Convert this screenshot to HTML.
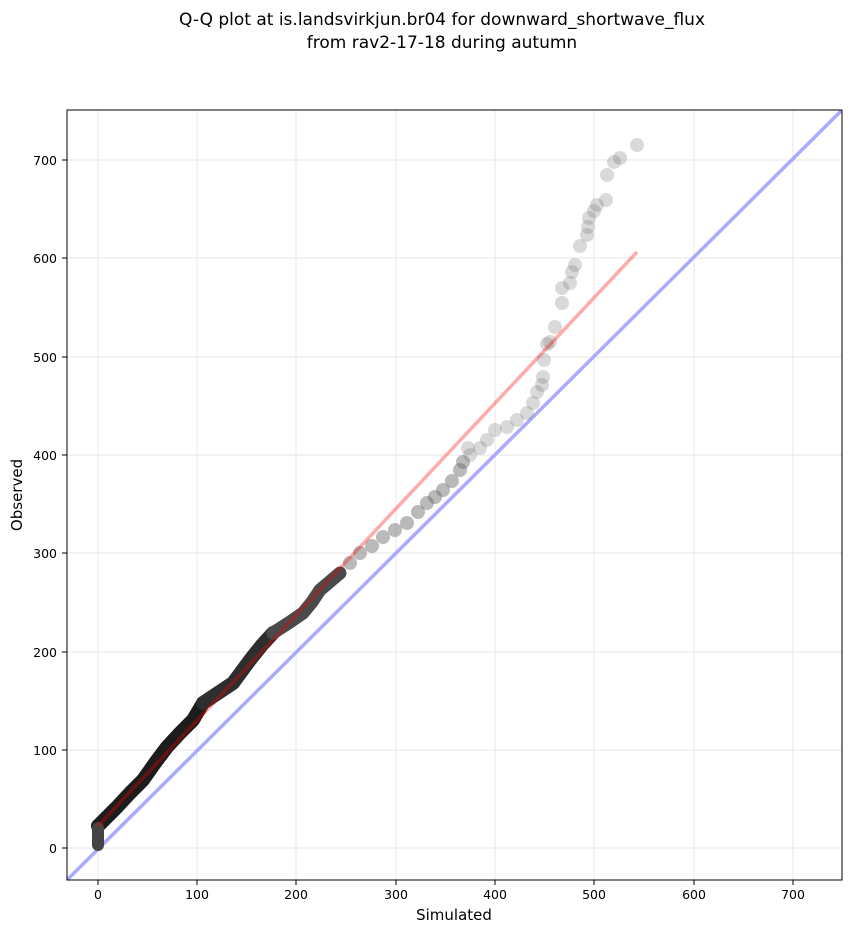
<!DOCTYPE html>
<html><head><meta charset="utf-8"><style>
body{margin:0;background:#fff;}
svg{display:block;font-family:"DejaVu Sans","Liberation Sans",sans-serif;}
</style></head><body>
<svg width="851" height="934" viewBox="0 0 851 934" xmlns="http://www.w3.org/2000/svg">
<rect width="851" height="934" fill="#fff"/>
<text x="442" y="25" font-size="17" text-anchor="middle">Q-Q plot at is.landsvirkjun.br04 for downward_shortwave_flux</text>
<text x="442" y="48" font-size="17" text-anchor="middle">from rav2-17-18 during autumn</text>
<defs><clipPath id="c"><rect x="67" y="110" width="775" height="770"/></clipPath></defs>
<g stroke="#ebebeb" stroke-width="1.2">
<line x1="98" y1="110" x2="98" y2="880"/><line x1="197" y1="110" x2="197" y2="880"/><line x1="296" y1="110" x2="296" y2="880"/><line x1="396" y1="110" x2="396" y2="880"/><line x1="495" y1="110" x2="495" y2="880"/><line x1="594" y1="110" x2="594" y2="880"/><line x1="694" y1="110" x2="694" y2="880"/><line x1="793" y1="110" x2="793" y2="880"/>
<line x1="67" y1="848" x2="842" y2="848"/><line x1="67" y1="750" x2="842" y2="750"/><line x1="67" y1="652" x2="842" y2="652"/><line x1="67" y1="553" x2="842" y2="553"/><line x1="67" y1="455" x2="842" y2="455"/><line x1="67" y1="357" x2="842" y2="357"/><line x1="67" y1="258" x2="842" y2="258"/><line x1="67" y1="160" x2="842" y2="160"/>
</g>
<g clip-path="url(#c)">
<line x1="67" y1="880" x2="842" y2="110" stroke="#aaaaff" stroke-width="3.5"/>
<polyline points="98,826 117,807 130,793 143,780 155,763 167,747 180,733 193,720 203,703" fill="none" stroke="#1c1c1c" stroke-width="14" stroke-linecap="round" stroke-linejoin="round"/>
<polyline points="98,828 98,845" fill="none" stroke="#444" stroke-width="12" stroke-linecap="round"/>
<polyline points="203,703 218,693 233,683 250,660 262,645 273,633" fill="none" stroke="#2e2e2e" stroke-width="14" stroke-linecap="round" stroke-linejoin="round"/>
<polyline points="273,633 290,622 303,613 312,602 320,590 340,573" fill="none" stroke="#4a4a4a" stroke-width="13" stroke-linecap="round" stroke-linejoin="round"/>
<g fill="#666" fill-opacity="0.45">
<circle cx="350" cy="563" r="7"/><circle cx="360" cy="553" r="7"/><circle cx="372" cy="546" r="7"/><circle cx="383" cy="537" r="7"/><circle cx="395" cy="530" r="7"/><circle cx="407" cy="523" r="7"/><circle cx="418" cy="512" r="7"/><circle cx="427" cy="503" r="7"/><circle cx="435" cy="497" r="7"/><circle cx="443" cy="490" r="7"/><circle cx="452" cy="481" r="7"/><circle cx="460" cy="470" r="7"/><circle cx="463" cy="462" r="7"/>
</g>
<g fill="#777" fill-opacity="0.28">
<circle cx="637" cy="145" r="7"/><circle cx="620" cy="158" r="7"/><circle cx="614" cy="162" r="7"/><circle cx="607" cy="175" r="7"/><circle cx="606" cy="200" r="7"/><circle cx="597" cy="205" r="7"/><circle cx="594" cy="211" r="7"/><circle cx="589" cy="218" r="7"/><circle cx="588" cy="227" r="7"/><circle cx="587" cy="235" r="7"/><circle cx="580" cy="246" r="7"/><circle cx="575" cy="265" r="7"/><circle cx="572" cy="272" r="7"/><circle cx="570" cy="283" r="7"/><circle cx="562" cy="288" r="7"/><circle cx="562" cy="303" r="7"/><circle cx="555" cy="327" r="7"/><circle cx="550" cy="342" r="7"/><circle cx="547" cy="344" r="7"/><circle cx="544" cy="360" r="7"/><circle cx="543" cy="377" r="7"/><circle cx="542" cy="385" r="7"/><circle cx="537" cy="392" r="7"/><circle cx="533" cy="403" r="7"/><circle cx="527" cy="413" r="7"/><circle cx="517" cy="420" r="7"/><circle cx="507" cy="427" r="7"/><circle cx="495" cy="430" r="7"/><circle cx="487" cy="440" r="7"/><circle cx="480" cy="448" r="7"/><circle cx="468" cy="448" r="7"/><circle cx="470" cy="455" r="7"/>
</g>
<line x1="98" y1="826" x2="637" y2="252" stroke="#ff0000" stroke-opacity="0.33" stroke-width="3.5"/>
</g>
<rect x="67" y="110" width="775" height="770" fill="none" stroke="#000" stroke-width="1"/>
<g stroke="#000" stroke-width="1">
<line x1="98" y1="880" x2="98" y2="885"/><line x1="197" y1="880" x2="197" y2="885"/><line x1="296" y1="880" x2="296" y2="885"/><line x1="396" y1="880" x2="396" y2="885"/><line x1="495" y1="880" x2="495" y2="885"/><line x1="594" y1="880" x2="594" y2="885"/><line x1="694" y1="880" x2="694" y2="885"/><line x1="793" y1="880" x2="793" y2="885"/>
<line x1="62" y1="848" x2="67" y2="848"/><line x1="62" y1="750" x2="67" y2="750"/><line x1="62" y1="652" x2="67" y2="652"/><line x1="62" y1="553" x2="67" y2="553"/><line x1="62" y1="455" x2="67" y2="455"/><line x1="62" y1="357" x2="67" y2="357"/><line x1="62" y1="258" x2="67" y2="258"/><line x1="62" y1="160" x2="67" y2="160"/>
</g>
<g font-size="12.5" text-anchor="middle">
<text x="98" y="899">0</text><text x="197" y="899">100</text><text x="296" y="899">200</text><text x="396" y="899">300</text><text x="495" y="899">400</text><text x="594" y="899">500</text><text x="694" y="899">600</text><text x="793" y="899">700</text>
</g>
<g font-size="12.5" text-anchor="end">
<text x="57" y="853">0</text><text x="57" y="755">100</text><text x="57" y="657">200</text><text x="57" y="558">300</text><text x="57" y="460">400</text><text x="57" y="362">500</text><text x="57" y="263">600</text><text x="57" y="165">700</text>
</g>
<text x="454" y="920" font-size="15" text-anchor="middle">Simulated</text>
<text x="22" y="495" font-size="15" text-anchor="middle" transform="rotate(-90 22 495)">Observed</text>
</svg>
</body></html>
